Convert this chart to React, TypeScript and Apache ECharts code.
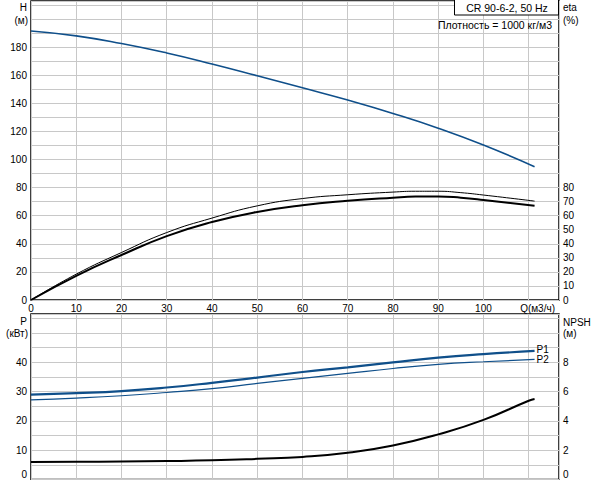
import React, { useEffect, useRef } from "react";
import * as echarts from "echarts";

// ---- data ----
const qH = [0, 10, 20, 30, 40, 50, 60, 70, 80, 90, 100, 111.3];
const headH = [191.5, 188, 182.5, 175.8, 168, 159.6, 151, 142.3, 132.8, 122.3, 110.3, 94.9];

const qEta = [0, 10, 20, 30, 40, 50, 60, 70, 80, 85, 90, 95, 100, 111.3];
const etaPump = [0, 18.4, 33.8, 48, 58.3, 67, 72.2, 74.9, 76.8, 77.4, 77.4, 76.4, 74.7, 70.4];
const etaTotal = [0, 17.2, 32, 45.5, 55.5, 62.7, 67.5, 70.6, 72.8, 73.6, 73.7, 72.8, 71.2, 67];

const qP = [0, 10, 20, 30, 40, 50, 60, 70, 80, 90, 100, 111.3];
const powerP1 = [29, 29.5, 30.2, 31.4, 33, 34.8, 36.7, 38.3, 40, 41.6, 42.8, 43.9];
const powerP2 = [27.2, 27.8, 28.6, 29.7, 31, 32.8, 34.5, 36.2, 37.9, 39.3, 40.2, 41];

const qNpsh = [0, 10, 20, 30, 40, 50, 60, 70, 80, 90, 100, 110, 111.3];
const npsh = [1.2, 1.21, 1.23, 1.26, 1.31, 1.41, 1.54, 1.82, 2.32, 3.08, 4.07, 5.38, 5.5];

const xTickLabels = ["0", "10", "20", "30", "40", "50", "60", "70", "80", "90", "100"];
const titleText = "CR 90-6-2, 50 Hz";
const densityText = "Плотность = 1000 кг/м3";
const qAxisName = "Q(м3/ч)";

const zip = (xs: number[], ys: number[]) => xs.map((x, i) => [x, ys[i]]);

const FONT = "'Liberation Sans', Arial, sans-serif";
const BLUE = "#0f4f8a";
const GRIDC = "#c8c8c8";
const Q_MAX = 116.7;
const H_MAX = 212.8;
const P_MAX = 56.5;

export default function App() {
  const ref = useRef<HTMLDivElement>(null);
  useEffect(() => {
    if (!ref.current) return;
    const chart = echarts.init(ref.current, undefined, { renderer: "svg" });
    const lbl = { color: "#000", fontSize: 10, fontFamily: FONT };
    const split = { show: true, lineStyle: { color: GRIDC, width: 1 } };
    const txt = (x: number, y: number, text: string, align: string, size = 10) => ({
      type: "text",
      x,
      y,
      z: 10,
      style: { text, fill: "#000", font: `${size}px ${FONT}`, textAlign: align, textVerticalAlign: "middle" },
    });
    chart.setOption({
      animation: false,
      backgroundColor: "#fff",
      grid: [
        { left: 31, right: 33, top: 1, height: 299, show: true, borderColor: "#000", borderWidth: 1.5 },
        { left: 31, right: 33, top: 314, height: 165.5, show: true, borderColor: "#000", borderWidth: 1.5 },
      ],
      xAxis: [
        {
          type: "value", gridIndex: 0, min: 0, max: Q_MAX, interval: 10,
          axisLine: { show: false }, axisTick: { show: false }, splitLine: split,
          axisLabel: {
            ...lbl, margin: 3, showMaxLabel: false,
            formatter: (v: number) => { const i = Math.round(v / 10); return v <= 100 ? xTickLabels[i] : ""; },
          },
        },
        {
          type: "value", gridIndex: 1, min: 0, max: Q_MAX, interval: 10,
          axisLine: { show: false }, axisTick: { show: false }, splitLine: split,
          axisLabel: { show: false },
        },
      ],
      yAxis: [
        {
          type: "value", gridIndex: 0, min: 0, max: H_MAX, interval: 10, position: "left",
          axisLine: { show: false }, axisTick: { show: false }, splitLine: split,
          axisLabel: { ...lbl, margin: 4, showMaxLabel: false, formatter: (v: number) => (v % 20 === 0 && v <= 180 ? String(v) : "") },
        },
        {
          type: "value", gridIndex: 0, min: 0, max: H_MAX, interval: 10, position: "right",
          axisLine: { show: false }, axisTick: { show: false }, splitLine: { show: false },
          axisLabel: { ...lbl, margin: 4, showMaxLabel: false, formatter: (v: number) => (v <= 80 ? String(v) : "") },
        },
        {
          type: "value", gridIndex: 1, min: 0, max: P_MAX, interval: 5, position: "left",
          axisLine: { show: false }, axisTick: { show: false }, splitLine: split,
          axisLabel: { ...lbl, margin: 4, showMinLabel: false, showMaxLabel: false, formatter: (v: number) => (v % 10 === 0 && v > 0 && v <= 40 ? String(v) : "") },
        },
        {
          type: "value", gridIndex: 1, min: 0, max: P_MAX / 5, interval: 1, position: "right",
          axisLine: { show: false }, axisTick: { show: false }, splitLine: { show: false },
          axisLabel: { ...lbl, margin: 4, showMinLabel: false, showMaxLabel: false, formatter: (v: number) => { const r = Math.round(v); return r % 2 === 0 && r > 0 && r <= 8 ? String(r) : ""; } },
        },
      ],
      series: [
        { type: "line", xAxisIndex: 0, yAxisIndex: 0, data: zip(qH, headH), smooth: true, showSymbol: false, lineStyle: { color: BLUE, width: 1.6 } },
        { type: "line", xAxisIndex: 0, yAxisIndex: 1, data: zip(qEta, etaPump), smooth: true, showSymbol: false, lineStyle: { color: "#000", width: 1 } },
        { type: "line", xAxisIndex: 0, yAxisIndex: 1, data: zip(qEta, etaTotal), smooth: true, showSymbol: false, lineStyle: { color: "#000", width: 2 } },
        {
          type: "line", xAxisIndex: 1, yAxisIndex: 2, data: zip(qP, powerP1), smooth: true, showSymbol: false,
          lineStyle: { color: BLUE, width: 2.2 },
          endLabel: { show: true, formatter: "P1", distance: 2, color: "#000", fontSize: 10, fontFamily: FONT, offset: [0, -1] },
        },
        {
          type: "line", xAxisIndex: 1, yAxisIndex: 2, data: zip(qP, powerP2), smooth: true, showSymbol: false,
          lineStyle: { color: BLUE, width: 1.2 },
          endLabel: { show: true, formatter: "P2", distance: 2, color: "#000", fontSize: 10, fontFamily: FONT, offset: [0, 0] },
        },
        { type: "line", xAxisIndex: 1, yAxisIndex: 3, data: zip(qNpsh, npsh), smooth: true, showSymbol: false, lineStyle: { color: "#000", width: 2 } },
      ],
      graphic: [
        txt(27, 7, "H", "right"),
        txt(28, 20, "(м)", "right"),
        txt(563, 7, "eta", "left"),
        txt(563, 20, "(%)", "left"),
        txt(27, 321, "P", "right"),
        txt(28, 333, "(кВт)", "right"),
        txt(563, 322, "NPSH", "left"),
        txt(563, 333, "(м)", "left"),
        txt(27, 474, "0", "right"),
        txt(563, 474, "0", "left"),
        txt(555, 308, qAxisName, "right"),
        {
          type: "rect", z: 9, shape: { x: 454.5, y: -1, width: 104, height: 16 },
          style: { fill: "#fff", stroke: "#000", lineWidth: 1 },
        },
        txt(507, 8, titleText, "center", 10.5),
        txt(552, 25, densityText, "right", 10.5),
      ],
    });
    return () => chart.dispose();
  }, []);
  return <div ref={ref} style={{ position: "fixed", left: 0, top: 0, width: 592, height: 480 }} />;
}
